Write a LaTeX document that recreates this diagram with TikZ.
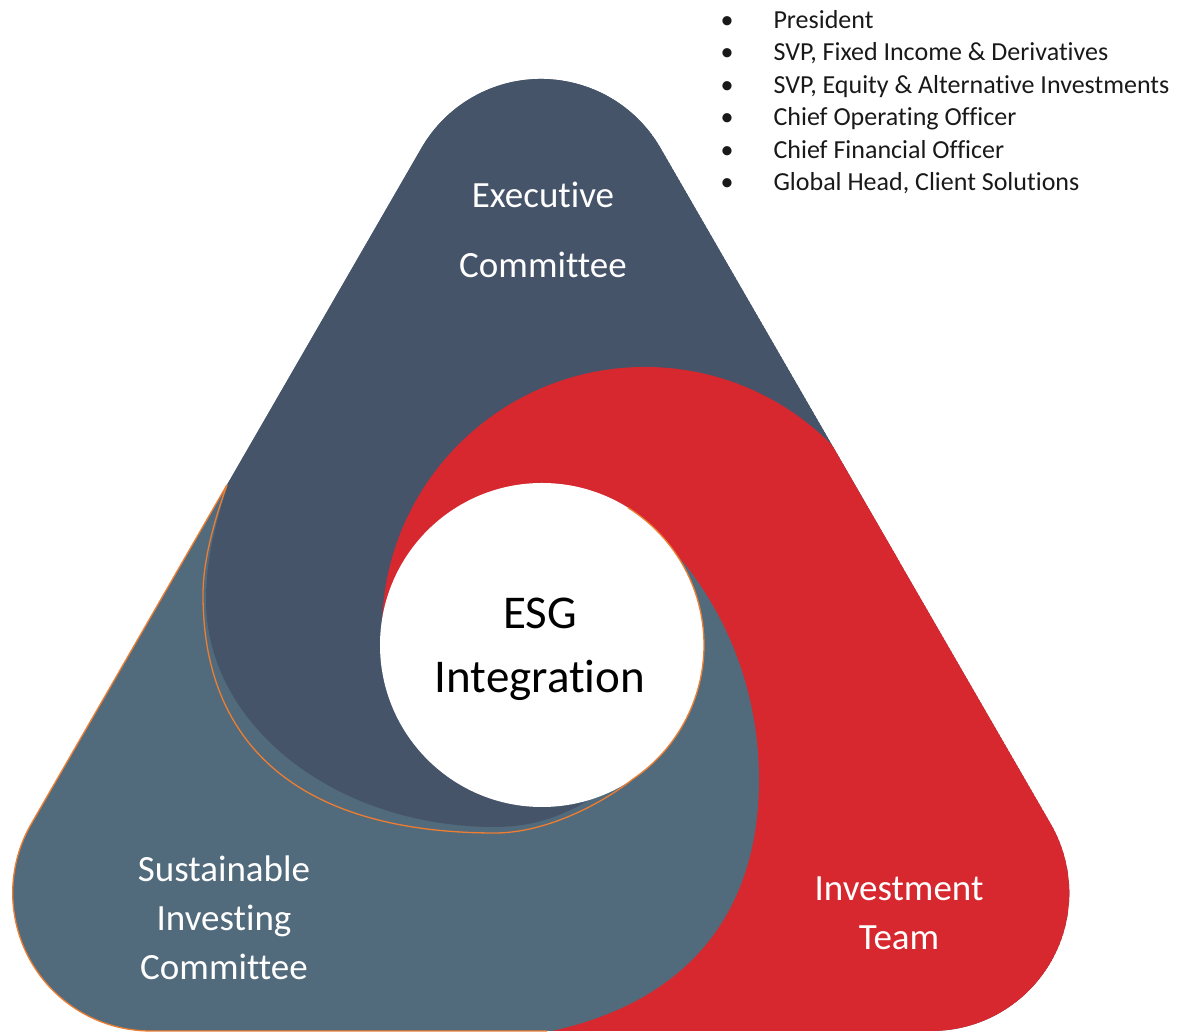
\documentclass[tikz,border=0pt]{standalone}
\usepackage{fontspec}
\setmainfont{Carlito}[Ligatures=CommonOff]
\definecolor{execblue}{HTML}{46546A}
\definecolor{sicgray}{HTML}{526B7C}
\definecolor{invred}{HTML}{D6282E}
\definecolor{rimorange}{HTML}{ED7D31}
\tikzset{
  shapetext/.style={text=white,align=center,font=\fontsize{37}{49}\selectfont},
  listitem/.style={anchor=base west,text=black!90,font=\fontsize{26}{30}\selectfont},
  bulletdot/.style={anchor=base,text=black!90,font=\fontsize{26}{30}\selectfont},
  rim/.style={rimorange,line width=1.3pt}
}
% rounded triangle holding the three parts
\newcommand{\trishape}{(660.5,884) arc[start angle=30,end angle=150,radius=138] -- (31.2,208) arc[start angle=150,end angle=270,radius=138] -- (931.3,1) arc[start angle=270,end angle=390,radius=138] -- cycle}
\begin{document}
\begin{tikzpicture}[x=1pt,y=1pt]
\useasboundingbox (0,0) rectangle (1184,1032);

\begin{scope}
\clip \trishape;
\fill[sicgray] \trishape;
% top and right sectors
\fill[execblue] (600,332) -- (-218,805) -- (-218,1332) -- (1400,1332) -- (1400,932) -- (1260,832) -- cycle;
\fill[invred] (600,332) -- (1260,832) -- (1400,932) -- (1400,-168) -- (480,-168) -- (480,-18) -- (620,202) -- cycle;
% executive hook
\fill[execblue] (228,547) .. controls (213,502) and (206,467) .. (206,432)
  .. controls (206,306.6) and (335.4,205) .. (495,205)
  .. controls (535,205) and (560,217) .. (577,225) -- (605,242) -- (650,432) -- (560,612) -- cycle;
% investment hook
\begin{scope}
\clip (0,392) rectangle (1184,1032);
\fill[invred] (645,402) circle[radius=263];
\end{scope}
% sustainable hook
\fill[sicgray] (635,517) .. controls (700,467) and (759,372) .. (759,252)
  .. controls (759,132) and (700,32) .. (547,0) -- (480,-18) -- (465,-18) -- (605,202) -- (590,332) -- (600,472) -- cycle;
\end{scope}

% centre
\fill[white] (542,387) circle[radius=162];
\draw[rim] ([shift={(58:162)}]542,387) arc[start angle=58,end angle=-56,radius=162]
  .. controls (600,227) and (545,199) .. (495,199)
  .. controls (305.2,199) and (203,282.3) .. (203,437)
  .. controls (203,467) and (211,502) .. (226.9,547);
\draw[rim] (226.9,547) -- (31.2,208) arc[start angle=150,end angle=270,radius=138] -- (547,1);

\node[shapetext,font=\fontsize{37}{70}\selectfont] (exec) at (543,802) {Executive\\Committee};
\node[align=center,font=\fontsize{47}{64}\selectfont] (esg) at (540,383) {ESG\\Integration};
\node[shapetext] (sic) at (224,114) {Sustainable\\Investing\\Committee};
\node[shapetext] (inv) at (899,119) {Investment\\Team};

\foreach \txt [count=\i] in {President, {SVP, Fixed Income \& Derivatives}, {SVP, Equity \& Alternative Investments}, Chief Operating Officer, Chief Financial Officer, {Global Head, Client Solutions}} {
  \node[bulletdot] (dot\i) at (727,{1003.5-32.4*(\i-1)}) {\textbullet};
  \node[listitem] (item\i) at (770,{1003.5-32.4*(\i-1)}) {\txt};
}
\end{tikzpicture}
\end{document}
